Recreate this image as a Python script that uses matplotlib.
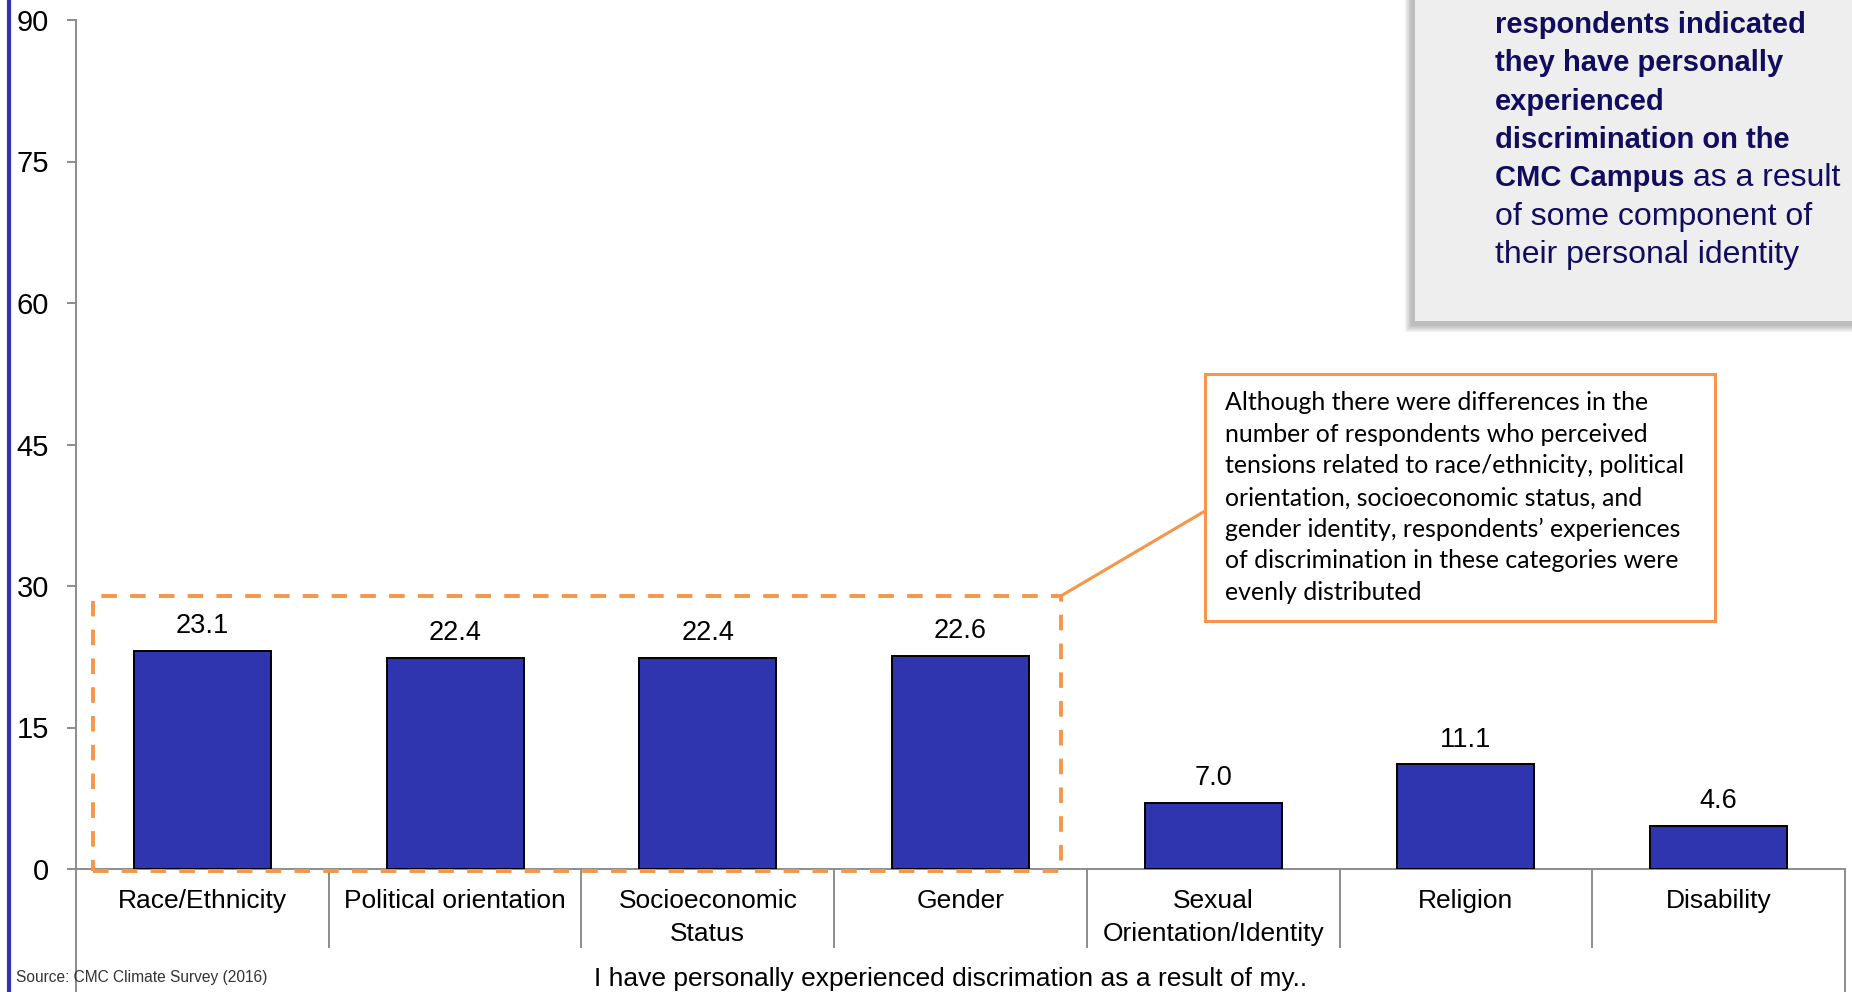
import matplotlib
matplotlib.use("Agg")
import matplotlib.pyplot as plt
from matplotlib.patches import Rectangle, ConnectionPatch
from matplotlib.lines import Line2D

# ---- data ----
categories = ["Race/Ethnicity", "Political orientation", "Socioeconomic\nStatus", "Gender",
              "Sexual\nOrientation/Identity", "Religion", "Disability"]
values = [23.1, 22.4, 22.4, 22.6, 7.0, 11.1, 4.6]
y_ticks = [0, 15, 30, 45, 60, 75, 90]

x_title = "I have personally experienced discrimation as a result of my.."
source_note = "Source: CMC Climate Survey (2016)"

callout_lines = [
    "Although there were differences in the",
    "number of respondents who perceived",
    "tensions related to race/ethnicity, political",
    "orientation, socioeconomic status, and",
    "gender identity, respondents\u2019 experiences",
    "of discrimination in these categories were",
    "evenly distributed",
]

summary_bold = ["respondents indicated", "they have personally", "experienced",
                "discrimination on the", "CMC Campus"]
summary_tail = " as a result"
summary_plain = ["of some component of", "their personal identity"]

# ---- styling ----
BAR = "#2E35AE"
GRID_GRAY = "#8C8C8C"
ORANGE = "#F79646"
NAVY = "#110D5E"

plt.rcParams["font.family"] = ["Liberation Sans", "DejaVu Sans"]

W, H = 1852, 992
fig = plt.figure(figsize=(W / 100, H / 100), dpi=100)


def fx(px):
    return px / W


def fy(py):
    return 1 - py / H


# blue rule along the left edge
fig.add_artist(Line2D([fx(9), fx(9)], [0, 1], color="#3034B0", lw=3, transform=fig.transFigure))

ax = fig.add_axes([fx(76), fy(869), fx(1845) - fx(76), fy(20) - fy(869)])
xs = list(range(len(categories)))
bars = ax.bar(xs, values, width=0.542, color=BAR, edgecolor="black", linewidth=1.4, zorder=3)
ax.set_xlim(-0.5, len(categories) - 0.5)
ax.set_ylim(0, 90)
ax.set_yticks(y_ticks)
ax.set_yticklabels([str(t) for t in y_ticks])
ax.tick_params(axis="y", length=6.5, width=1.4, color=GRID_GRAY, pad=13, labelsize=21)
ax.set_xticks(xs)
ax.set_xticklabels(categories, fontsize=19, linespacing=1.45)
ax.tick_params(axis="x", length=0, pad=14.5)
for side in ["top", "right"]:
    ax.spines[side].set_visible(False)
for side in ["left", "bottom"]:
    ax.spines[side].set_color(GRID_GRAY)
    ax.spines[side].set_linewidth(1.4)

# value labels
for xi, v in zip(xs, values):
    ax.annotate(f"{v:.1f}", xy=(xi, v), xytext=(0, 12.7), textcoords="offset points",
                ha="center", va="baseline", fontsize=19.5)

# category table separators below the axis
tr = ax.get_xaxis_transform()
ax_h = 869 - 20
for k in range(len(categories) + 1):
    xpos = k - 0.5
    depth = (992 - 869) / ax_h if k in (0, len(categories)) else (947 - 869) / ax_h
    ax.add_line(Line2D([xpos, xpos], [0, -depth], transform=tr, color=GRID_GRAY,
                       lw=1.4, clip_on=False))

# dashed highlight around the first four categories
hl = Rectangle((-0.433, -0.2), 3.397 + 0.433, 28.94 + 0.2, fill=False, edgecolor=ORANGE,
               lw=2.8, linestyle=(0, (4, 3.4)), clip_on=False, zorder=4)
ax.add_patch(hl)

# callout box
bx0, by0, bx1, by1 = 1205, 374, 1715, 621
fig.add_artist(Rectangle((fx(bx0), fy(by1)), fx(bx1) - fx(bx0), fy(by0) - fy(by1),
                         transform=fig.transFigure, facecolor="white", edgecolor=ORANGE, lw=2.2))
for i, line in enumerate(callout_lines):
    fig.text(fx(1225), fy(410 + 31.7 * i), line, ha="left", va="baseline",
             fontsize=17.9, family=["Lato", "DejaVu Sans"], color="black")

con = ConnectionPatch(xyA=(3.397, 28.94), coordsA=ax.transData,
                      xyB=(fx(bx0), fy(511)), coordsB=fig.transFigure,
                      color=ORANGE, lw=2.2)
fig.add_artist(con)

# summary panel in the upper right, with a soft shadow
gx0, gy1 = 1415, 321
for s in range(7):
    fig.add_artist(Rectangle((fx(gx0 - 4 - s), fy(gy1 + 5 + s)), 1, 1, transform=fig.transFigure,
                             facecolor="#404040", edgecolor="none", alpha=0.055))
fig.add_artist(Rectangle((fx(gx0), fy(gy1)), 1, 1, transform=fig.transFigure,
                         facecolor="#EEEEEE", edgecolor="none"))

tx = fx(1495)
base = 33
step = 38.3
BOLD_FS = 21
PLAIN_FS = 23
row = 0
last = None
for line in summary_bold:
    last = fig.text(tx, fy(base + step * row), line, ha="left", va="baseline",
                    fontsize=BOLD_FS, fontweight="bold", color=NAVY)
    row += 1
# continue the last bold row in regular weight
fig.canvas.draw()
bb = last.get_window_extent(renderer=fig.canvas.get_renderer())
fig.text(bb.x1 / fig.bbox.width, fy(base + step * (row - 1)), summary_tail, ha="left",
         va="baseline", fontsize=PLAIN_FS, color=NAVY)
for line in summary_plain:
    fig.text(tx, fy(base + step * row), line, ha="left", va="baseline",
             fontsize=PLAIN_FS, color=NAVY)
    row += 1

# axis title and source
fig.text(fx(951), fy(986), x_title, ha="center", va="baseline", fontsize=19)
fig.text(fx(16), fy(982), source_note, ha="left", va="baseline", fontsize=11.2, color="#333333")

fig.savefig("out.png", dpi=100)
